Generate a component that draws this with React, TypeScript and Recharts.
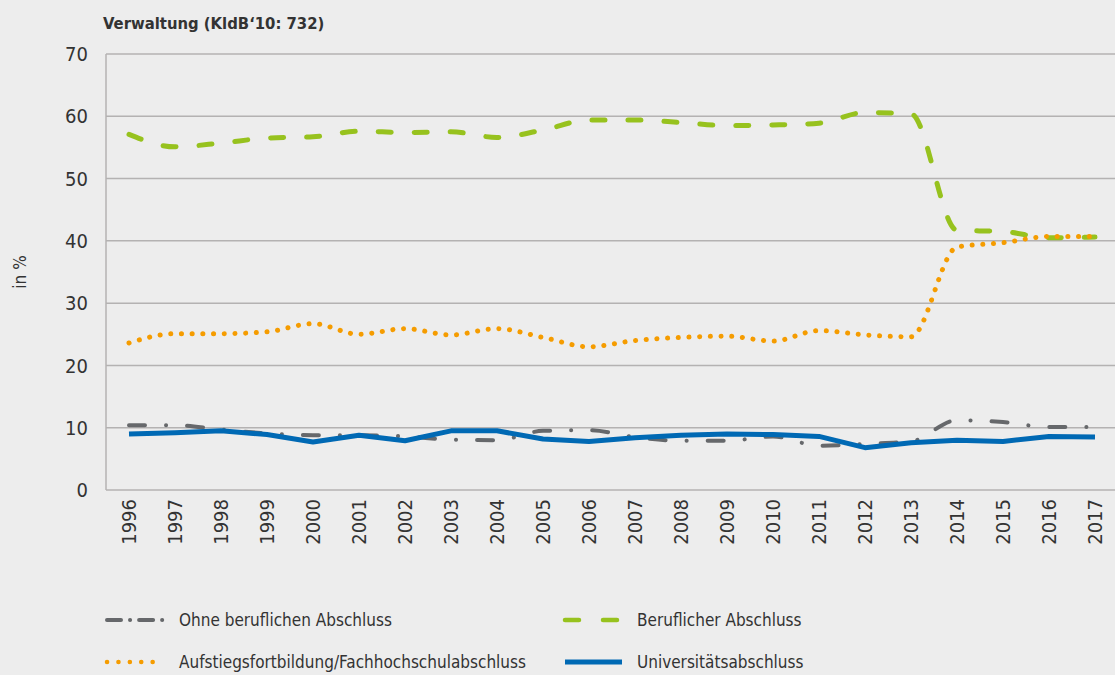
import React from "react";
import {
	CartesianGrid,
	Legend,
	Line,
	LineChart,
	XAxis,
	YAxis,
} from "recharts";

const years = [
	1996, 1997, 1998, 1999, 2000, 2001, 2002, 2003, 2004, 2005, 2006, 2007, 2008,
	2009, 2010, 2011, 2012, 2013, 2014, 2015, 2016, 2017,
];

const ohneAbschluss = [
	10.4, 10.4, 9.7, 9.1, 8.8, 8.8, 8.6, 8.1, 8.0, 9.5, 9.6, 8.5, 7.9, 7.9, 8.6,
	7.1, 7.4, 7.8, 11.2, 10.9, 10.1, 10.1,
];
const beruflicherAbschluss = [
	57.1, 55.1, 55.7, 56.5, 56.7, 57.6, 57.4, 57.5, 56.6, 57.8, 59.4, 59.4, 59.0,
	58.5, 58.6, 58.9, 60.6, 60.4, 41.7, 41.5, 40.5, 40.6,
];
const aufstiegsfortbildung = [
	23.6, 25.1, 25.1, 25.4, 26.7, 25.0, 25.9, 24.9, 25.9, 24.5, 23.0, 24.0, 24.5,
	24.7, 23.9, 25.6, 24.9, 24.6, 39.0, 39.7, 40.7, 40.7,
];
const universitaet = [
	9.0, 9.2, 9.5, 8.9, 7.7, 8.8, 7.9, 9.5, 9.5, 8.2, 7.8, 8.4, 8.8, 9.0, 8.9,
	8.6, 6.8, 7.6, 8.0, 7.8, 8.6, 8.5,
];

const yTicks = [0, 10, 20, 30, 40, 50, 60, 70];

const rows = years.map((year, i) => ({
	year,
	ohne: ohneAbschluss[i],
	beruf: beruflicherAbschluss[i],
	aufstieg: aufstiegsfortbildung[i],
	uni: universitaet[i],
}));

// grid lines sit between the years
const boundaries = [...years.map((y) => y - 0.5), years[years.length - 1] + 0.5];
const xDomain = [boundaries[0], boundaries[boundaries.length - 1]];

const FONT = '"DejaVu Sans Condensed", "DejaVu Sans", sans-serif';
const TEXT = "#333333";
const GRID = "#b4b2b2";

// legend reads row by row: ohne, beruf / aufstieg, uni
const legendOrder = ["ohne", "beruf", "aufstieg", "uni"];
const legendSymbols: Record<string, { dash?: string; width: number }> = {
	ohne: { dash: "14 9 0.1 9", width: 4 },
	beruf: { dash: "14 24", width: 4.5 },
	aufstieg: { dash: "0.1 11.3", width: 4.5 },
	uni: { width: 5 },
};

const YearTick = ({ x, y, payload }: any) => (
	<text
		x={x}
		y={y}
		transform={`rotate(-90 ${x} ${y})`}
		textAnchor="end"
		dominantBaseline="central"
		fontFamily={FONT}
		fontSize={20}
		fill={TEXT}
	>
		{payload.value}
	</text>
);

const renderLegend = (props: any) => {
	const payload = [...(props.payload || [])].sort(
		(a: any, b: any) =>
			legendOrder.indexOf(a.dataKey) - legendOrder.indexOf(b.dataKey),
	);
	return (
		<div
			style={{
				display: "grid",
				gridTemplateColumns: "458px 458px",
				fontFamily: FONT,
				fontSize: 17,
				color: TEXT,
			}}
		>
			{payload.map((entry: any) => {
				const sym = legendSymbols[entry.dataKey];
				return (
					<div
						key={entry.dataKey}
						style={{
							display: "flex",
							alignItems: "center",
							height: 42,
							whiteSpace: "nowrap",
						}}
					>
						<svg
							width={64}
							height={10}
							style={{ marginRight: 12, flexShrink: 0 }}
						>
							<line
								x1={4}
								x2={61}
								y1={5}
								y2={5}
								stroke={entry.color}
								strokeWidth={sym.width}
								strokeDasharray={sym.dash}
								strokeLinecap={sym.dash ? "round" : "butt"}
							/>
						</svg>
						<span>{entry.value}</span>
					</div>
				);
			})}
		</div>
	);
};

export default function App() {
	return (
		<div
			style={{
				position: "relative",
				width: 1115,
				height: 675,
				background: "#ededed",
				overflow: "hidden",
			}}
		>
			<style>{"body{margin:0}"}</style>
			<div
				style={{
					position: "absolute",
					left: 103,
					top: 14,
					fontFamily: FONT,
					fontSize: 16.5,
					fontWeight: "bold",
					color: TEXT,
					whiteSpace: "nowrap",
				}}
			>
				Verwaltung (KldB‘10: 732)
			</div>
			<LineChart
				width={1120}
				height={675}
				data={rows}
				margin={{ top: 54, right: 2, bottom: 125, left: 0 }}
			>
				<CartesianGrid xAxisId="grid" stroke={GRID} strokeWidth={1.5} />
				<XAxis
					dataKey="year"
					type="number"
					domain={xDomain}
					ticks={years}
					interval={0}
					height={60}
					axisLine={false}
					tickLine={false}
					tickSize={0}
					tickMargin={9}
					tick={<YearTick />}
				/>
				<XAxis
					xAxisId="grid"
					type="number"
					domain={xDomain}
					ticks={boundaries}
					interval={0}
					hide
				/>
				<YAxis
					domain={[0, 70]}
					ticks={yTicks}
					interval={0}
					width={106}
					axisLine={false}
					tickLine={false}
					tickSize={0}
					tickMargin={18}
					tick={{ fill: TEXT, fontSize: 20, fontFamily: FONT }}
					label={{
						value: "in %",
						angle: -90,
						position: "insideLeft",
						offset: 20,
						textAnchor: "middle",
						style: {
							textAnchor: "middle",
							fontFamily: FONT,
							fontSize: 17,
							fill: TEXT,
						},
					}}
				/>
				<Legend
					layout="vertical"
					align="center"
					verticalAlign="middle"
					content={renderLegend}
					wrapperStyle={{ left: 103, top: 599, width: 940 }}
				/>
				<Line
					dataKey="ohne"
					name="Ohne beruflichen Abschluss"
					type="monotone"
					stroke="#66686b"
					strokeWidth={4}
					strokeDasharray="16 21 0.1 21"
					strokeLinecap="round"
					dot={false}
					activeDot={false}
					isAnimationActive={false}
				/>
				<Line
					dataKey="beruf"
					name="Beruflicher Abschluss"
					type="monotone"
					stroke="#97c21e"
					strokeWidth={5}
					strokeDasharray="13 23"
					strokeLinecap="round"
					dot={false}
					activeDot={false}
					isAnimationActive={false}
				/>
				<Line
					dataKey="aufstieg"
					name="Aufstiegsfortbildung/Fachhochschulabschluss"
					type="monotone"
					stroke="#f59c00"
					strokeWidth={5}
					strokeDasharray="0.1 10.6"
					strokeLinecap="round"
					dot={false}
					activeDot={false}
					isAnimationActive={false}
				/>
				<Line
					dataKey="uni"
					name="Universitätsabschluss"
					type="linear"
					stroke="#0069b4"
					strokeWidth={5}
					strokeLinejoin="round"
					dot={false}
					activeDot={false}
					isAnimationActive={false}
				/>
			</LineChart>
		</div>
	);
}
